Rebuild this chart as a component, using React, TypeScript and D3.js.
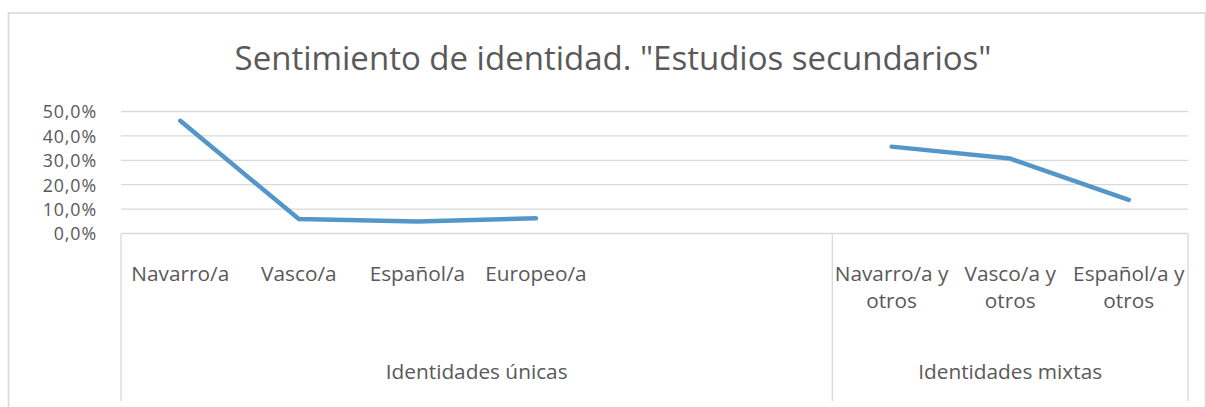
import React from "react";
import * as d3 from "d3";

const title = 'Sentimiento de identidad. "Estudios secundarios"';
const categories: string[][] = [
  ["Navarro/a"],
  ["Vasco/a"],
  ["Español/a"],
  ["Europeo/a"],
  [],
  [],
  ["Navarro/a y", "otros"],
  ["Vasco/a y", "otros"],
  ["Español/a y", "otros"],
];
const values: (number | null)[] = [0.462, 0.059, 0.049, 0.062, null, null, 0.356, 0.307, 0.138];
const groups = ["Identidades únicas", "Identidades mixtas"];
const groupSizes = [6, 3];
const yTicks = [0, 0.1, 0.2, 0.3, 0.4, 0.5];

const W = 1206;
const H = 407;
const FONT = "'Open Sans', 'Noto Sans', sans-serif";
const TEXT = "#595959";
const GRID = "#d9d9d9";

export default function App() {
  const left = 121;
  const right = 1188;
  const y0 = 233.5;
  const y50 = 111.5;
  const x = d3
    .scaleBand<number>()
    .domain(categories.map((_, i) => i))
    .range([left, right])
    .paddingInner(0)
    .paddingOuter(0);
  const y = d3.scaleLinear().domain([0, 0.5]).range([y0, y50]);
  const fmt = (v: number) => d3.format(".1f")(v * 100).replace(".", ",") + "%";

  const line = d3
    .line<number | null>()
    .defined((d) => d !== null)
    .x((_, i) => (x(i) as number) + x.bandwidth() / 2)
    .y((d) => y(d as number));

  const bounds: number[] = [0];
  groupSizes.forEach((s) => bounds.push(bounds[bounds.length - 1] + s));
  const bx = (k: number) => left + k * x.bandwidth();

  return (
    <svg
      width={W}
      height={H}
      style={{ position: "absolute", left: 0, top: 0, background: "#fff" }}
      fontFamily={FONT}
    >
      <rect x={8.5} y={13} width={1197} height={420} fill="#fff" stroke={GRID} strokeWidth={1.6} />
      <text x={613} y={70} textAnchor="middle" fontSize={33} fill={TEXT}>
        {title}
      </text>
      {yTicks.map((t) => (
        <g key={t}>
          {t > 0 && (
            <line x1={left} x2={right} y1={y(t)} y2={y(t)} stroke={GRID} strokeWidth={1.3} />
          )}
          <text
            x={97}
            y={y(t) + 6.8}
            textAnchor="end"
            fontSize={17.8}
            letterSpacing={0.9}
            fill={TEXT}
          >
            {fmt(t)}
          </text>
        </g>
      ))}
      <line x1={left} x2={right} y1={y0} y2={y0} stroke={GRID} strokeWidth={1.3} />
      {bounds.map((b, i) => (
        <line key={i} x1={bx(b)} x2={bx(b)} y1={y0} y2={401} stroke={GRID} strokeWidth={1.3} />
      ))}
      {categories.map((lines, i) => (
        <text
          key={i}
          x={(x(i) as number) + x.bandwidth() / 2}
          y={281}
          textAnchor="middle"
          fontSize={20.8}
          fill={TEXT}
        >
          {lines.map((l, j) => (
            <tspan key={j} x={(x(i) as number) + x.bandwidth() / 2} dy={j === 0 ? 0 : 27}>
              {l}
            </tspan>
          ))}
        </text>
      ))}
      {groups.map((g, i) => (
        <text
          key={g}
          x={(bx(bounds[i]) + bx(bounds[i + 1])) / 2}
          y={379}
          textAnchor="middle"
          fontSize={20.8}
          fill={TEXT}
        >
          {g}
        </text>
      ))}
      <path
        d={line(values) || ""}
        fill="none"
        stroke="#5596c9"
        strokeWidth={4.5}
        strokeLinecap="round"
        strokeLinejoin="round"
      />
    </svg>
  );
}
